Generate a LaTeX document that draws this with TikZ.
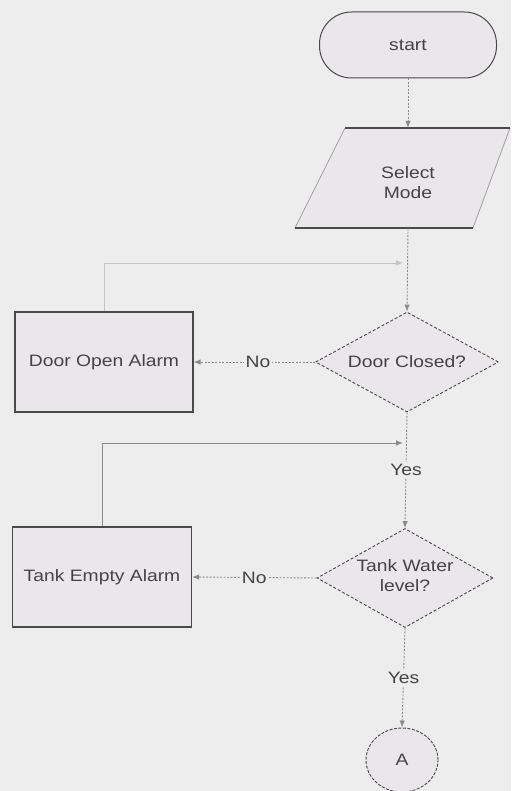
\documentclass[tikz,border=0pt]{standalone}
\usepackage{fontspec}
\setmainfont{Liberation Sans}[FakeStretch=1.17]
\usetikzlibrary{shapes.geometric,arrows.meta}
\definecolor{bg}{HTML}{EEEDED}
\definecolor{boxfill}{HTML}{EAE7EA}
\definecolor{edge}{HTML}{4A4A4A}
\definecolor{conn}{HTML}{8A8A8A}
\definecolor{lightconn}{HTML}{C4C4C4}
\definecolor{txt}{HTML}{444444}
\begin{document}
\begin{tikzpicture}[x=1pt,y=-1pt,
  font=\fontsize{16.5}{20}\selectfont, text=txt,
  every node/.style={align=center},
  termbox/.style={draw=edge, line width=1pt, fill=boxfill, rounded corners=32pt,
    minimum width=177pt, minimum height=66pt, inner sep=0pt},
  alarmbox/.style={draw=edge, line width=1.2pt, fill=boxfill,
    minimum width=178pt, minimum height=100pt, inner sep=0pt},
  decision/.style={diamond, draw=edge, line width=0.9pt, dash pattern=on 3pt off 2pt,
    fill=boxfill, inner sep=0pt, shape aspect=1.8, minimum height=100pt},
  connbox/.style={ellipse, draw=edge, line width=0.9pt, dash pattern=on 3pt off 1.5pt,
    fill=boxfill, minimum width=72pt, minimum height=64pt, inner sep=0pt},
  flow/.style={draw=conn, line width=0.9pt, dash pattern=on 2pt off 1.5pt,
    -{Latex[length=7pt,width=5.5pt]}},
  loopline/.style={draw=conn, line width=0.9pt, -{Latex[length=7pt,width=5.5pt]}},
  lbl/.style={fill=bg, inner sep=2pt}
]
\useasboundingbox[fill=bg] (0,0) rectangle (511,791);

% start
\node[termbox] (start) at (408,45) {start};

% parallelogram (Select Mode)
\fill[boxfill] (345,128) -- (510,128) -- (473,228) -- (295,228) -- cycle;
\draw[lightconn!70!edge, line width=0.8pt] (345,128) -- (295,228);
\draw[lightconn!70!edge, line width=0.8pt] (510,128) -- (473,228);
\draw[edge, line width=1.2pt] (345,128) -- (510,128);
\draw[edge, line width=1.2pt] (295,228) -- (473,228);
\node[minimum width=100pt, minimum height=100pt, inner sep=0pt] (mode) at (408,178) {};
\node (modetext) at (408,183) {Select\\Mode};

% decisions
\node[decision, minimum width=183pt] (door) at (407,362) {};
\node (doortext) at (407,362) {Door Closed?};
\node[decision, minimum width=176pt, minimum height=99pt] (tank) at (405,578) {};
\node (tanktext) at (405,576) {Tank Water\\level?};

% alarms
\node[alarmbox] (dalarm) at (104,362) {Door Open Alarm};
\node[alarmbox, minimum width=179pt] (talarm) at (102,577) {Tank Empty Alarm};

% connector
\node[connbox] (conA) at (402,760) {A};

% junction points
\coordinate (j1) at (403,263);
\coordinate (j2) at (403,443);

% flows
\draw[flow] (start.south) -- (start.south |- mode.north);
\draw[flow] (mode.south) -- (door.north);
\draw[loopline, draw=lightconn] (dalarm.north) -- (dalarm.north |- j1) -- (j1);
\draw[flow] (door.west) -- node[lbl, pos=0.47] {No} (dalarm.east);
\draw[flow] (door.south) -- node[lbl] {Yes} (tank.north);
\draw[loopline] (talarm.north) -- (talarm.north |- j2) -- (j2);
\draw[flow] (tank.west) -- node[lbl] {No} (talarm.east);
\draw[flow] (tank.south) -- node[lbl] {Yes} (conA.north);
\end{tikzpicture}
\end{document}
